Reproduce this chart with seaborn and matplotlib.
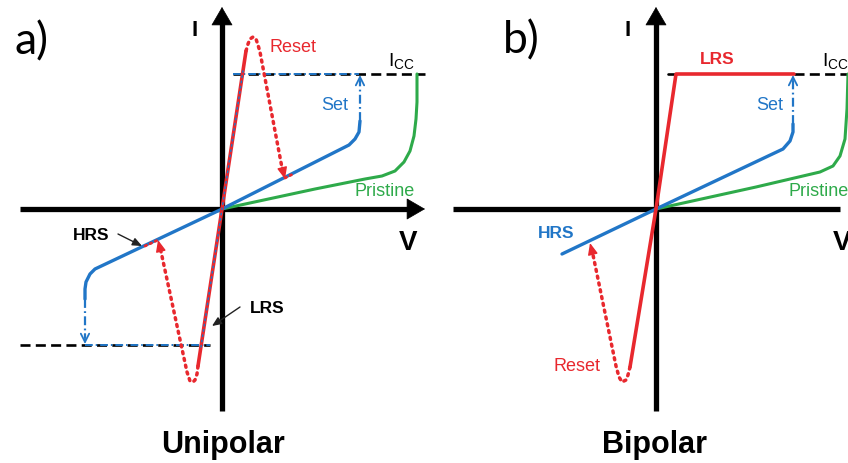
import matplotlib
matplotlib.use("Agg")
import matplotlib.pyplot as plt
import seaborn as sns

# ---------------- data (units ~ pixels, origin at axis crossing, y up) ----------------
ICC_POS = 135
ICC_NEG = -136

# Unipolar panel
uni_lrs_x = [-24, 0, 24]
uni_lrs_y = [-157, 0, 158]
uni_hrs_x = [-137, -137, -136, -132, -127, 0, 127, 133, 137, 138]
uni_hrs_y = [-90, -80, -73, -65, -60, 0, 64, 70, 77, 88]
uni_pristine_x = [0, 93, 143, 160, 173, 182, 188, 192, 194, 195, 195]
uni_pristine_y = [0, 20, 30, 33, 38, 47, 58, 73, 90, 107, 135]
uni_reset_pos_x = [24, 26, 28, 31, 34, 36, 38, 61]
uni_reset_pos_y = [158, 165, 170, 172, 170, 164, 157, 36]
uni_reset_neg_x = [-24, -25, -27, -29, -32, -35, -62]
uni_reset_neg_y = [-157, -165, -171, -173, -172, -163, -38]

# Bipolar panel
bi_lrs_x = [-26, 0, 20, 138]
bi_lrs_y = [-158, 0, 135, 135]
bi_hrs_x = [-94, 0, 127, 134, 137, 137]
bi_hrs_y = [-45, 0, 60, 68, 77, 85]
bi_pristine_x = [0, 100, 164, 177, 184, 189, 191, 192]
bi_pristine_y = [0, 22, 37, 43, 53, 70, 100, 135]
bi_reset_x = [-26, -28, -30, -34, -37, -40, -64]
bi_reset_y = [-158, -166, -171, -173, -168, -157, -41]

RED = "#E8282E"
BLUE = "#2176C7"
GREEN = "#2EAA4A"

sns.set_theme(style="white")
plt.rcParams["font.family"] = ["Liberation Sans", "DejaVu Sans"]
plt.rcParams["text.color"] = "black"

fig = plt.figure(figsize=(8.48, 4.64), dpi=100)
fig.patch.set_facecolor("white")
axL = fig.add_axes([0, 0, 440 / 848, 1])
axR = fig.add_axes([440 / 848, 0, 408 / 848, 1])
axL.set_xlim(-222, 218)
axR.set_xlim(-216, 192)
for ax in (axL, axR):
    ax.set_ylim(-254, 210)
    ax.axis("off")


def curve(ax, xs, ys, color, lw=2.3, ls="-", z=3, cap="round"):
    sns.lineplot(x=xs, y=ys, ax=ax, sort=False, estimator=None, color=color,
                 linewidth=lw, linestyle=ls, legend=False, zorder=z,
                 dash_capstyle=cap, solid_capstyle="round")


def head(ax, tip, frm, color, scale=10, style="-|>,head_length=0.7,head_width=0.3", lw=1.0, z=5):
    ax.annotate("", xy=tip, xytext=frm,
                arrowprops=dict(arrowstyle=style, color=color, lw=lw,
                                mutation_scale=scale, shrinkA=0, shrinkB=0),
                zorder=z)


DOT = (0, (0.6, 1.4))
DASH = (0, (3.8, 2.0))
DASHDOT = (0, (4, 1.5, 0.8, 1.5))


def axes_cross(ax, xl, xr, yb, yt):
    lw = 3.8
    ax.plot([xl, xr - 12], [0, 0], color="black", lw=lw, solid_capstyle="butt", zorder=2)
    ax.plot([0, 0], [yb, yt - 12], color="black", lw=lw, solid_capstyle="butt", zorder=2)
    st = "-|>,head_length=0.62,head_width=0.36"
    head(ax, (xr, 0), (xr - 14, 0), "black", scale=20, style=st, lw=0.5, z=2)
    head(ax, (0, yt), (0, yt - 14), "black", scale=20, style=st, lw=0.5, z=2)


# ---------------- Unipolar ----------------
ax = axL
axes_cross(ax, -202, 203, -202, 202)
# compliance lines
curve(ax, [11, 203], [ICC_POS, ICC_POS], "black", lw=1.9, ls=DASH, cap="butt", z=3)
curve(ax, [11, 137], [ICC_POS, ICC_POS], BLUE, lw=1.4, ls=DASHDOT, cap="butt", z=4)
curve(ax, [-202, -12], [ICC_NEG, ICC_NEG], "black", lw=1.9, ls=DASH, cap="butt", z=3)
curve(ax, [-137, -12], [ICC_NEG, ICC_NEG], BLUE, lw=1.4, ls=DASHDOT, cap="butt", z=4)
# curves
curve(ax, uni_pristine_x, uni_pristine_y, GREEN, lw=2.2)
curve(ax, uni_hrs_x, uni_hrs_y, BLUE, lw=2.4)
curve(ax, uni_lrs_x, uni_lrs_y, RED, lw=2.6, z=4)
curve(ax, [-21, 21], [-138, 138], BLUE, lw=1.1, ls=(0, (1, 2.5)), z=5)
curve(ax, uni_reset_pos_x, uni_reset_pos_y, RED, lw=2.5, ls=DOT, z=6)
curve(ax, uni_reset_neg_x, uni_reset_neg_y, RED, lw=2.5, ls=DOT, z=6)
curve(ax, [63, 71], [31, 35], RED, lw=2.0, ls=DOT, z=6)
curve(ax, [-77, -64], [-37, -31], RED, lw=2.0, ls=DOT, z=6)
head(ax, (63, 30), (60, 42), RED)
head(ax, (-64, -31), (-61, -43), RED)
# set arrows
curve(ax, [138, 138], [88, 128], BLUE, lw=1.6, ls=DASHDOT, cap="butt")
head(ax, (138, 134), (138, 124), BLUE, style="->,head_length=0.6,head_width=0.3", lw=1.3)
curve(ax, [-137, -137], [-90, -129], BLUE, lw=1.6, ls=DASHDOT, cap="butt")
head(ax, (-137, -135), (-137, -125), BLUE, style="->,head_length=0.6,head_width=0.3", lw=1.3)
# pointers
head(ax, (-80, -37), (-104, -25), "#222222", scale=8, lw=1.0)
head(ax, (-10, -117), (18, -98), "#222222", scale=8, lw=1.0)
# labels
ax.text(-208, 168, "a)", fontsize=32, family=["Lato", "DejaVu Sans"], ha="left", va="center")
ax.text(-27, 179, "I", fontsize=16, fontweight="bold", ha="center", va="center")
ax.text(186, -33, "V", fontsize=20, fontweight="bold", ha="center", va="center")
ax.text(71, 163, "Reset", fontsize=13, color=RED, ha="center", va="center")
ax.text(166, 148, r"I$_{\mathregular{CC}}$", fontsize=14, ha="left", va="center")
ax.text(113, 105, "Set", fontsize=13, color=BLUE, ha="center", va="center")
ax.text(133, 18, "Pristine", fontsize=13, color=GREEN, ha="left", va="center")
ax.text(-131, -26, "HRS", fontsize=12.5, fontweight="bold", ha="center", va="center")
ax.text(45, -99, "LRS", fontsize=12.5, fontweight="bold", ha="center", va="center")
ax.text(1, -235, "Unipolar", fontsize=22, fontweight="bold", ha="center", va="center")

# ---------------- Bipolar ----------------
ax = axR
axes_cross(ax, -203, 196, -202, 202)
curve(ax, [12, 20], [ICC_POS, ICC_POS], "black", lw=1.9, ls="-", cap="butt", z=3)
curve(ax, [138, 200], [ICC_POS, ICC_POS], "black", lw=1.9, ls=DASH, cap="butt", z=3)
curve(ax, bi_pristine_x, bi_pristine_y, GREEN, lw=2.2)
curve(ax, bi_hrs_x, bi_hrs_y, BLUE, lw=2.4)
curve(ax, bi_lrs_x, bi_lrs_y, RED, lw=2.6, z=4)
curve(ax, bi_reset_x, bi_reset_y, RED, lw=2.5, ls=DOT, z=6)
head(ax, (-66, -34), (-63, -46), RED)
curve(ax, [137, 137], [85, 128], BLUE, lw=1.6, ls=DASHDOT, cap="butt")
head(ax, (137, 134), (137, 124), BLUE, style="->,head_length=0.6,head_width=0.3", lw=1.3)
ax.text(-153, 169, "b)", fontsize=32, family=["Lato", "DejaVu Sans"], ha="left", va="center")
ax.text(-28, 179, "I", fontsize=16, fontweight="bold", ha="center", va="center")
ax.text(186, -33, "V", fontsize=20, fontweight="bold", ha="center", va="center")
ax.text(61, 151, "LRS", fontsize=12.5, fontweight="bold", color=RED, ha="center", va="center")
ax.text(166, 148, r"I$_{\mathregular{CC}}$", fontsize=14, ha="left", va="center")
ax.text(114, 105, "Set", fontsize=13, color=BLUE, ha="center", va="center")
ax.text(132, 18, "Pristine", fontsize=13, color=GREEN, ha="left", va="center")
ax.text(-100, -24, "HRS", fontsize=12.5, fontweight="bold", color=BLUE, ha="center", va="center")
ax.text(-79, -157, "Reset", fontsize=13, color=RED, ha="center", va="center")
ax.text(-1, -235, "Bipolar", fontsize=22, fontweight="bold", ha="center", va="center")

fig.savefig("out.png", dpi=100, facecolor="white")
